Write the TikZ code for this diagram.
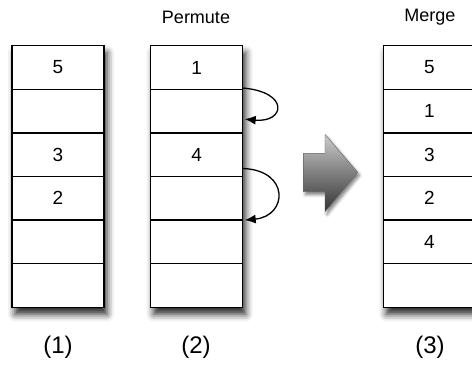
\documentclass[tikz,border=0pt]{standalone}
\usepackage{fontspec}
\setmainfont{Liberation Sans}
\usetikzlibrary{shadows.blur,calc,arrows.meta}

\tikzset{
  cell/.style={draw, line width=1.3pt, fill=white, minimum width=92pt,
    minimum height=43.6pt, inner sep=0pt, outer sep=0pt, font=\fontsize{19}{19}\selectfont},
  colbox/.style={fill=white, minimum width=92pt, minimum height=261.6pt,
    inner sep=0pt, outer sep=0pt,
    blur shadow={shadow xshift=3pt, shadow yshift=-7pt, shadow blur radius=7pt, shadow opacity=85}},
  caption/.style={font=\fontsize{24}{24}\selectfont, inner sep=0pt},
  heading/.style={font=\fontsize{18}{18}\selectfont, inner sep=0pt},
  swap/.style={line width=1.3pt, -{Latex[length=11pt,width=9pt]}},
  bigarrow/.style={draw=black!60, line width=0.4pt, top color=black!20, bottom color=black!80,
    blur shadow={shadow xshift=2pt, shadow yshift=-3pt, shadow blur radius=3pt, shadow opacity=50}}
}

\begin{document}
\begin{tikzpicture}[x=1pt, y=-1pt]
  \useasboundingbox (0,0) rectangle (472,365);
  \clip (0,0) rectangle (472,365);

  % column frames carrying the drop shadows
  \node[colbox] (col1) at (58,176.5) {};
  \node[colbox] (col2) at (196.7,176.5) {};
  \node[colbox] (col3) at (429.3,176.5) {};

  % cells of the three arrays
  \foreach \c/\x/\labels in {1/58/{5,,3,2,,}, 2/196.7/{1,,4,,,}, 3/429.3/{5,1,3,2,4,}} {
    \foreach \t [count=\r] in \labels {
      \node[cell] (c\c-\r) at (\x, 45.7+43.6*\r-21.8) {\t};
    }
  }

  % headings and captions
  \node[heading] (hperm) at (196,17) {Permute};
  \node[heading] (hmerge) at (430,17) {Merge};
  \node[caption] (cap1) at (58,347) {(1)};
  \node[caption] (cap2) at (196,347) {(2)};
  \node[caption] (cap3) at (430,347) {(3)};

  % permutation moves in the second array
  \coordinate (s1) at ($(c2-2.north east)+(0,-1.3)$);
  \coordinate (e1) at ($(c2-2.east)+(2,8)$);
  \coordinate (s2) at ($(c2-3.south east)+(0,-8)$);
  \coordinate (e2) at ($(c2-5.north east)+(2,0)$);
  \draw[swap] (s1) .. controls (290,92) and (285,123) .. (e1);
  \draw[swap] (s2) .. controls (290,170) and (288,216) .. (e2);

  % block arrow towards the merged result
  \path[bigarrow] (303.3,153.3) -- (325,153.3) -- (325,134.3) -- (357.7,172.3)
    -- (325,211.7) -- (325,191.7) -- (303.3,191.7) -- cycle;
\end{tikzpicture}
\end{document}
